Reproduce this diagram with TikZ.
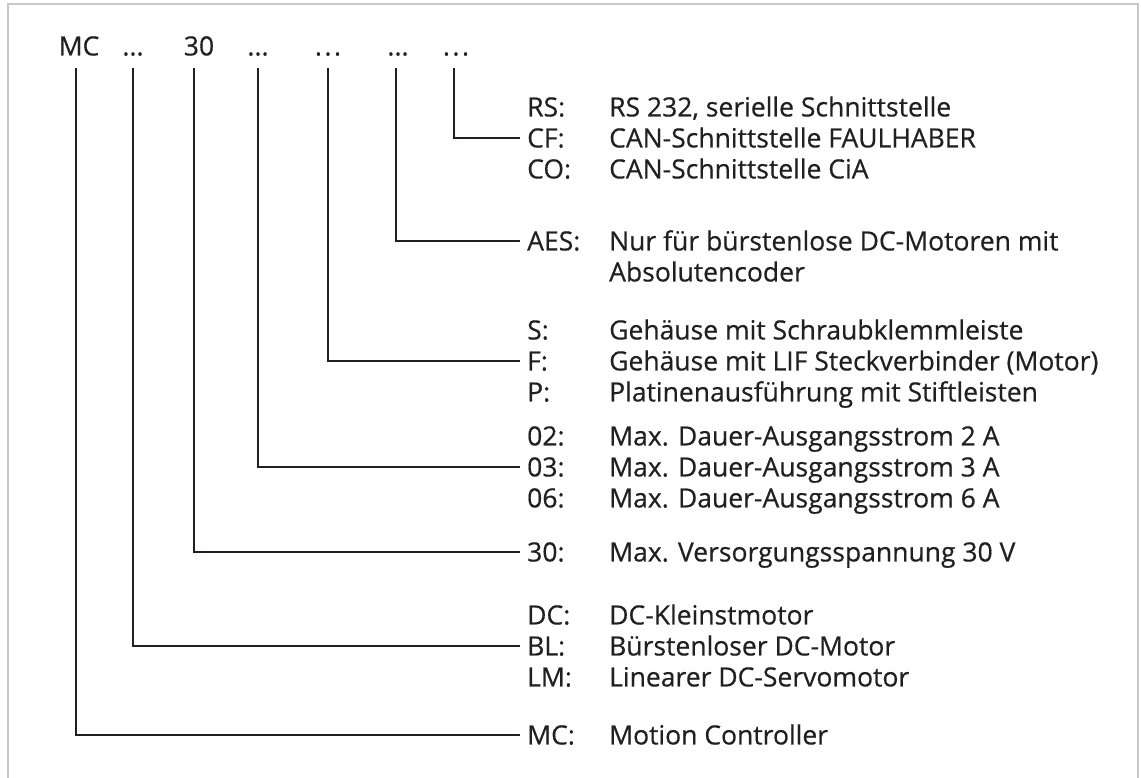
\documentclass[tikz,border=0pt]{standalone}
\usepackage{fontspec}
\setmainfont{Open Sans}[FakeBold=0.5]
\definecolor{ink}{HTML}{231F20}
\definecolor{frame}{HTML}{C8C8C8}
\newcommand{\widedots}{.\kern2.5pt.\kern2.5pt.}
\tikzset{
  txt/.style={inner sep=0pt, text height=18.9pt, text depth=0pt, anchor=west, text=ink, font=\fontsize{26.5}{32}\selectfont},
  top/.style={txt, anchor=center},
  conn/.style={draw=ink, line width=2.6pt},
}
\begin{document}
\begin{tikzpicture}[x=1pt,y=-1pt]
\useasboundingbox (0,0) rectangle (1141,778);
\draw[frame, line width=1.6pt] (8,779) -- (8,4) -- (1138,4) -- (1138,779);
% top row
\node[top] (t1) at (79,46) {MC};
\node[top] (t2) at (133,46) {...};
\node[top] (t3) at (199,46) {30};
\node[top] (t4) at (258,46) {...};
\node[top] (t5) at (328,46) {\widedots};
\node[top] (t6) at (398,46) {...};
\node[top] (t7) at (456,46) {\widedots};
% line starts
\coordinate (c1) at (76,68);
\coordinate (c2) at (133,68);
\coordinate (c3) at (194,68);
\coordinate (c4) at (258,68);
\coordinate (c5) at (328,68);
\coordinate (c6) at (396,68);
\coordinate (c7) at (454,68);
% labels
\def\lx{527}
\def\dx{609}
\node[txt] (lRS) at (\lx,107) {RS:};   \node[txt] (dRS) at (\dx,107) {RS 232, serielle Schnittstelle};
\node[txt] (lCF) at (\lx,138) {CF:};   \node[txt] (dCF) at (\dx,138) {CAN-Schnittstelle FAULHABER};
\node[txt] (lCO) at (\lx,169) {CO:};   \node[txt] (dCO) at (\dx,169) {CAN-Schnittstelle CiA};
\node[txt] (lAES) at (\lx,241) {AES:}; \node[txt] (dAES) at (\dx,241) {Nur für bürstenlose DC-Motoren mit};
\node[txt] (dAES2) at (\dx,272) {Absolutencoder};
\node[txt] (lS) at (\lx,330) {S:};     \node[txt] (dS) at (\dx,330) {Gehäuse mit Schraubklemmleiste};
\node[txt] (lF) at (\lx,361) {F:};     \node[txt] (dF) at (\dx,361) {Gehäuse mit LIF Steckverbinder (Motor)};
\node[txt] (lP) at (\lx,392) {P:};     \node[txt] (dP) at (\dx,392) {Platinenausführung mit Stiftleisten};
\node[txt] (l02) at (\lx,436) {02:};   \node[txt] (d02) at (\dx,436) {Max. Dauer-Ausgangsstrom 2 A};
\node[txt] (l03) at (\lx,467) {03:};   \node[txt] (d03) at (\dx,467) {Max. Dauer-Ausgangsstrom 3 A};
\node[txt] (l06) at (\lx,498) {06:};   \node[txt] (d06) at (\dx,498) {Max. Dauer-Ausgangsstrom 6 A};
\node[txt] (l30) at (\lx,552) {30:};   \node[txt] (d30) at (\dx,552) {Max. Versorgungsspannung 30 V};
\node[txt] (lDC) at (\lx,615) {DC:};   \node[txt] (dDC) at (\dx,615) {DC-Kleinstmotor};
\node[txt] (lBL) at (\lx,646) {BL:};   \node[txt] (dBL) at (\dx,646) {Bürstenloser DC-Motor};
\node[txt] (lLM) at (\lx,677) {LM:};   \node[txt] (dLM) at (\dx,677) {Linearer DC-Servomotor};
\node[txt] (lMC) at (\lx,735) {MC:};   \node[txt] (dMC) at (\dx,735) {Motion Controller};
% connectors
\draw[conn] (c7) |- ([xshift=-7pt]lCF.west);
\draw[conn] (c6) |- ([xshift=-7pt]lAES.west);
\draw[conn] (c5) |- ([xshift=-7pt]lF.west);
\draw[conn] (c4) |- ([xshift=-7pt]l03.west);
\draw[conn] (c3) |- ([xshift=-7pt]l30.west);
\draw[conn] (c2) |- ([xshift=-7pt]lBL.west);
\draw[conn] (c1) |- ([xshift=-7pt]lMC.west);
\end{tikzpicture}
\end{document}
